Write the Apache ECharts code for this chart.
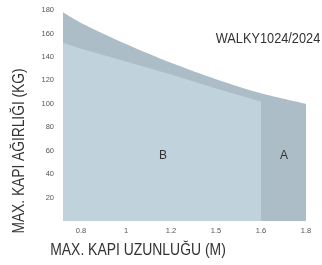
<!DOCTYPE html>
<html>
<head>
<meta charset="utf-8">
<script src="https://cdn.jsdelivr.net/npm/echarts@6/dist/echarts.min.js"></script>
<style>
  html, body { margin: 0; padding: 0; background: #fff; }
  #chart { width: 322px; height: 265px; }
</style>
</head>
<body>
<div id="chart"></div>
<script>
  // x labels sit on evenly spaced slots 0..5
  var xLabels = ['0.8', '1', '1.2', '1.5', '1.6', '1.8']
  var xSlotsA = [-0.4, 0, 1, 2, 3, 4, 5]
  var weightA = [178, 169, 151, 135, 121, 109, 100]
  var xSlotsB = [-0.4, 0, 1, 2, 3, 4]
  var weightB = [152, 147, 136, 125, 113, 102]

  var pairs = function (xs, ys) {
    var out = []
    for (var i = 0; i < xs.length; i++) {
      out.push([xs[i], ys[i]])
    }
    return out
  }

  var textColor = '#333'
  var font = 'Liberation Sans, Arial, sans-serif'

  var chart = echarts.init(document.getElementById('chart'))
  chart.setOption({
    animation: false,
    grid: {
      left: 63,
      right: 16,
      top: 10,
      bottom: 44,
    },
    xAxis: {
      type: 'value',
      min: -0.4,
      max: 5,
      splitLine: { show: false },
      axisLine: { show: false },
      axisTick: { show: false },
      axisLabel: {
        customValues: [0, 1, 2, 3, 4, 5],
        formatter: function (v) {
          return xLabels[Math.round(v)]
        },
        fontSize: 7.5,
        color: '#555',
        margin: 6,
        fontFamily: font,
      },
    },
    yAxis: {
      type: 'value',
      min: 0,
      max: 180,
      interval: 20,
      splitLine: { show: false },
      axisLine: { show: false },
      axisTick: { show: false },
      axisLabel: {
        showMinLabel: false,
        fontSize: 7.5,
        color: '#555',
        margin: 9,
        fontFamily: font,
      },
    },
    series: [
      {
        name: 'A',
        type: 'line',
        smooth: 0.3,
        symbol: 'none',
        lineStyle: { width: 0 },
        areaStyle: { color: '#adbdc7', opacity: 1 },
        data: pairs(xSlotsA, weightA),
        z: 1,
      },
      {
        name: 'B',
        type: 'line',
        symbol: 'none',
        lineStyle: { width: 0 },
        areaStyle: { color: '#c0d3dc', opacity: 1 },
        data: pairs(xSlotsB, weightB),
        z: 2,
      },
    ],
    graphic: [
      {
        type: 'text',
        x: 20,
        y: 151,
        rotation: Math.PI / 2,
        scaleX: 0.86,
        style: {
          text: 'MAX. KAPI AĞIRLIĞI (KG)',
          fontSize: 16,
          fontFamily: font,
          fill: textColor,
          align: 'center',
          verticalAlign: 'middle',
        },
      },
      {
        type: 'text',
        x: 138,
        y: 251,
        scaleX: 0.87,
        style: {
          text: 'MAX. KAPI UZUNLUĞU (M)',
          fontSize: 16,
          fontFamily: font,
          fill: textColor,
          align: 'center',
          verticalAlign: 'middle',
        },
      },
      {
        type: 'text',
        x: 268,
        y: 39,
        scaleX: 0.85,
        style: {
          text: 'WALKY1024/2024',
          fontSize: 15,
          fontFamily: font,
          fill: textColor,
          align: 'center',
          verticalAlign: 'middle',
        },
      },
      {
        type: 'text',
        x: 163,
        y: 156,
        style: {
          text: 'B',
          fontSize: 12,
          fontFamily: font,
          fill: textColor,
          align: 'center',
          verticalAlign: 'middle',
        },
        z: 10,
      },
      {
        type: 'text',
        x: 284,
        y: 156,
        style: {
          text: 'A',
          fontSize: 12,
          fontFamily: font,
          fill: textColor,
          align: 'center',
          verticalAlign: 'middle',
        },
        z: 10,
      },
    ],
  })
</script>
</body>
</html>
